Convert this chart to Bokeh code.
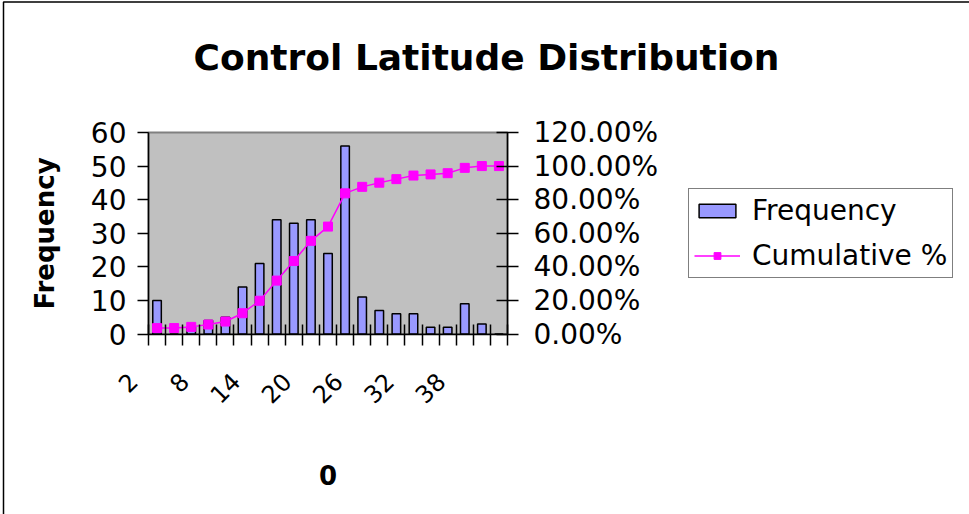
import numpy as np
from bokeh.plotting import figure
from bokeh.models import (Range1d, LinearAxis, FixedTicker, NumeralTickFormatter,
                          Label, Legend, BoxAnnotation)
from bokeh.embed import file_html
from bokeh.resources import INLINE

# ---- data ----
bins = ["2", "4", "6", "8", "10", "12", "14", "16", "18", "20", "22",
        "24", "26", "28", "30", "32", "34", "36", "38", "40", "42"]
frequency = [10, 0, 2, 4, 5, 14, 21, 34, 33, 34, 24,
             56, 11, 7, 6, 6, 2, 2, 9, 3, 0]
cumulative_pct = [3.53, 3.53, 4.24, 5.65, 7.42, 12.37, 19.79, 31.80, 43.46, 55.48, 63.96,
                  83.75, 87.63, 90.11, 92.23, 94.35, 95.05, 95.76, 98.94, 100.0, 100.0]
x_tick_labels = ["2", "8", "14", "20", "26", "32", "38"]
left_ticks = [0, 10, 20, 30, 40, 50, 60]
right_ticks = [0.0, 0.2, 0.4, 0.6, 0.8, 1.0, 1.2]

title_text = "Control Latitude Distribution"
y_title = "Frequency"
x_title = "0"

FONT = "DejaVu Sans"
W, H = 969, 514
# pixel margins between canvas edge and the grey plot area
ML, MR, MT, MB = 148, 462, 132, 180.5

n = len(bins)
ymax = left_ticks[-1]
pmax = right_ticks[-1]
centers = [i + 0.5 for i in range(n)]
cum_frac = [c / 100.0 for c in cumulative_pct]

# the frame spans the whole canvas; ranges are widened so the plot area sits
# at the wanted pixel box and axes are pinned to its edges
xs = (W - ML - MR) / n
ys = (H - MT - MB) / ymax
ps = (H - MT - MB) / pmax
x_range = Range1d(-ML / xs, n + MR / xs)
y_range = Range1d(-MB / ys, ymax + MT / ys)

p = figure(width=W, height=H, output_backend="svg", toolbar_location=None,
           x_range=x_range, y_range=y_range,
           x_axis_type=None, y_axis_type=None, min_border=0)
p.extra_y_ranges = {"pct": Range1d(-MB / ps, pmax + MT / ps)}

p.background_fill_color = "white"
p.border_fill_color = "white"
p.outline_line_color = None

# chart border (left and top edges visible)
p.add_layout(BoxAnnotation(left=3, right=W + 20, bottom=-20, top=H - 1.5,
                           left_units="screen", right_units="screen",
                           bottom_units="screen", top_units="screen",
                           fill_alpha=0, line_color="black", line_alpha=1.0,
                           line_width=1.5, level="underlay"))

# grey plot area
p.add_layout(BoxAnnotation(left=0, right=n, bottom=0, top=ymax,
                           fill_color="#C0C0C0", fill_alpha=1.0,
                           line_color="#808080", line_alpha=1.0, line_width=2,
                           level="underlay"))

# left axis
la = LinearAxis(ticker=FixedTicker(ticks=left_ticks), fixed_location=0, bounds=(0, ymax),
                major_tick_in=0, major_tick_out=11,
                minor_tick_in=0, minor_tick_out=0,
                major_label_standoff=11,
                axis_line_color="black", axis_line_width=1.5,
                major_tick_line_color="black", major_tick_line_width=1.5,
                major_label_text_font=FONT, major_label_text_font_size="28px",
                major_label_text_color="black",
                axis_label=y_title, axis_label_standoff=28,
                axis_label_text_font=FONT, axis_label_text_font_style="bold",
                axis_label_text_font_size="26px", axis_label_text_color="black")
p.add_layout(la, "left")

# right axis
ra = LinearAxis(y_range_name="pct", ticker=FixedTicker(ticks=right_ticks),
                fixed_location=n, bounds=(0, pmax),
                formatter=NumeralTickFormatter(format="0.00%"),
                major_tick_in=11, major_tick_out=11,
                minor_tick_in=0, minor_tick_out=0,
                major_label_standoff=15,
                axis_line_color="black", axis_line_width=1.5,
                major_tick_line_color="black", major_tick_line_width=1.5,
                major_label_text_font=FONT, major_label_text_font_size="28px",
                major_label_text_color="black")
p.add_layout(ra, "right")

# bottom axis: tick marks between categories, labels every third category
label_pos = [centers[bins.index(t)] - 1.4 for t in x_tick_labels]
boundaries = list(range(n + 1))
ba = LinearAxis(ticker=FixedTicker(ticks=label_pos, minor_ticks=boundaries),
                fixed_location=0, bounds=(0, n),
                major_label_overrides={pos: t for pos, t in zip(label_pos, x_tick_labels)},
                major_tick_in=0, major_tick_out=0,
                minor_tick_in=10, minor_tick_out=11,
                minor_tick_line_color="black", minor_tick_line_width=1.5,
                axis_line_color="black", axis_line_width=1.5,
                major_label_orientation=np.pi / 4,
                major_label_standoff=32,
                major_label_text_font=FONT, major_label_text_font_size="24px",
                major_label_text_color="black",
                axis_label=x_title, axis_label_standoff=50,
                axis_label_text_font=FONT, axis_label_text_font_style="bold",
                axis_label_text_font_size="26px", axis_label_text_color="black")
p.add_layout(ba, "below")

# bars
r_bar = p.vbar(x=centers, top=frequency, width=0.5, fill_color="#9999FF",
               line_color="black", line_width=1.5)

# cumulative line
r_line = p.line(x=centers, y=cum_frac, y_range_name="pct", line_color="#FF00FF",
                line_width=1.5)
r_pts = p.scatter(x=centers, y=cum_frac, y_range_name="pct", marker="square", size=9,
                  fill_color="#FF00FF", line_color="#FF00FF")

# title
p.add_layout(Label(x=486, y=H - 57, x_units="screen", y_units="screen",
                   text=title_text, text_align="center", text_baseline="alphabetic",
                   text_font=FONT, text_font_style="bold", text_font_size="36px",
                   text_color="black"))

lg = Legend(items=[("Frequency", [r_bar]), ("Cumulative %", [r_line, r_pts])])
lg.location = (688, H - 278)
lg.border_line_color = "black"
lg.border_line_width = 1
lg.background_fill_color = "white"
lg.background_fill_alpha = 1.0
lg.label_text_font = FONT
lg.label_text_font_size = "28px"
lg.label_text_color = "black"
lg.glyph_width = 46
lg.glyph_height = 17
lg.padding = 5
lg.spacing = 12
lg.margin = 0
lg.label_standoff = 12
p.add_layout(lg, "center")

open("out.html", "w").write(file_html(p, INLINE))
